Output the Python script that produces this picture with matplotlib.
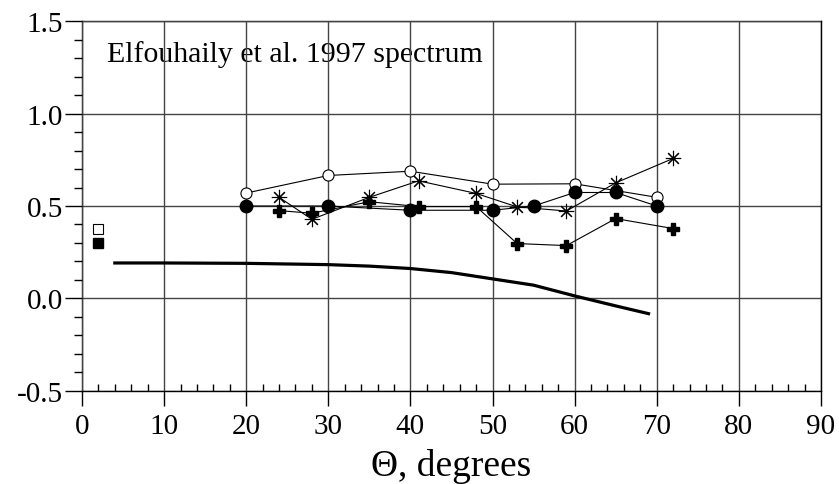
import matplotlib
matplotlib.use("Agg")
import matplotlib.pyplot as plt
from matplotlib.ticker import MultipleLocator

# Datos
theta_open = [20, 30, 40, 50, 60, 70]
val_open = [0.57, 0.665, 0.688, 0.618, 0.62, 0.547]

theta_filled = [20, 30, 40, 50, 55, 60, 65, 70]
val_filled = [0.50, 0.50, 0.477, 0.477, 0.50, 0.573, 0.573, 0.50]

theta_star = [24, 28, 35, 41, 48, 53, 59, 65, 72]
val_star = [0.547, 0.428, 0.547, 0.636, 0.568, 0.495, 0.473, 0.625, 0.757]

theta_plus = [24, 28, 35, 41, 48, 53, 59, 65, 72]
val_plus = [0.475, 0.461, 0.523, 0.497, 0.497, 0.297, 0.286, 0.432, 0.378]

theta_sq = [2]
val_sq_open = [0.376]
val_sq_filled = [0.30]

theta_model = [4, 10, 20, 30, 35, 40, 45, 50, 55, 60, 65, 69]
val_model = [0.192, 0.192, 0.19, 0.183, 0.175, 0.162, 0.14, 0.106, 0.072, 0.014, -0.04, -0.082]

plt.rcParams["font.family"] = ["Liberation Serif", "DejaVu Serif"]

fig = plt.figure(figsize=(8.39, 4.85), dpi=100)
ax = fig.add_axes([0.0977, 0.1918, 0.8808, 0.7628])

thin = 0.8
ax.plot(theta_open, val_open, color="black", lw=thin, marker="o", ms=8,
        mfc="white", mec="black", mew=0.8, zorder=4)
ax.plot(theta_filled, val_filled, color="black", lw=thin, marker="o", ms=9,
        mfc="black", mec="black", zorder=4)
ax.plot(theta_star, val_star, color="black", lw=thin, marker=(8, 2, 0), ms=11,
        mew=0.8, zorder=4)
ax.plot(theta_plus, val_plus, color="black", lw=thin, marker="P", ms=9,
        mfc="black", mec="black", zorder=4)
ax.plot(theta_sq, val_sq_open, ls="none", marker="s", ms=7.5,
        mfc="white", mec="black", mew=0.8, zorder=4)
ax.plot(theta_sq, val_sq_filled, ls="none", marker="s", ms=7.5,
        mfc="black", mec="black", zorder=4)
ax.plot(theta_model, val_model, color="black", lw=2.3, zorder=4)

ax.set_xlim(0, 90)
ax.set_ylim(-0.5, 1.5)
ax.xaxis.set_major_locator(MultipleLocator(10))
ax.xaxis.set_minor_locator(MultipleLocator(2))
ax.yaxis.set_major_locator(MultipleLocator(0.5))
ax.yaxis.set_minor_locator(MultipleLocator(0.1))
ax.set_yticklabels([f"{v:.1f}" for v in ax.get_yticks()])

ax.grid(True, which="major", color="#444444", lw=1.0, zorder=3)
ax.set_axisbelow(False)

ax.tick_params(axis="x", which="major", direction="out", length=11, width=1,
               labelsize=21, pad=5)
ax.tick_params(axis="x", which="minor", direction="in", length=5, width=1)
ax.tick_params(axis="y", which="major", direction="out", length=12, width=1,
               labelsize=21, pad=1.5)
ax.tick_params(axis="y", which="minor", direction="out", length=6, width=1)
for s in ax.spines.values():
    s.set_linewidth(1.0)

ax.text(0.034, 0.892, "Elfouhaily et al. 1997 spectrum", transform=ax.transAxes,
        fontsize=21.5, va="baseline", ha="left", zorder=1)

ax.set_xlabel("Θ, degrees", fontsize=27, labelpad=6)

fig.savefig("out.png", dpi=100)
